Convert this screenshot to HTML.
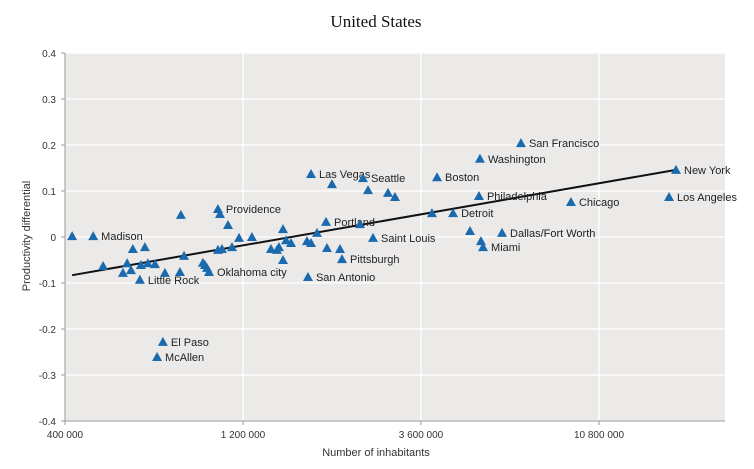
<!DOCTYPE html>
<html><head><meta charset="utf-8"><style>
body{margin:0;background:#fff}
svg{display:block}
text{font-family:"Liberation Sans",sans-serif}
</style></head><body>
<svg id="chart" width="754" height="469"></svg>
<script>
const populations=[418000,476000,818000,1028000,1041000,1094000,1171000,1268000,1536000,608000,655000,506000,587000,572000,601000,639000,667000,697000,635000,741000,813000,834000,937000,949000,961000,973000,1028000,1054000,1121000,1426000,1480000,1498000,1565000,1614000,1536000,1781000,1826000,1894000,2003000,2015000,2184000,2211000,1792000,2470000,2677000,1826000,2078000,2516000,2596000,2936000,3066000,3974000,5180000,6672000,17372000,5148000,16640000,9084000,3852000,4388000,4872000,5936000,5212000,5280000,732000,706000];
const differentials=[0.002,0.002,0.048,0.061,0.05,0.026,-0.002,0.0,0.017,-0.026,-0.022,-0.063,-0.057,-0.078,-0.072,-0.061,-0.057,-0.059,-0.093,-0.078,-0.076,-0.041,-0.056,-0.061,-0.067,-0.076,-0.028,-0.026,-0.022,-0.026,-0.028,-0.022,-0.007,-0.013,-0.05,-0.009,-0.013,0.009,0.033,-0.024,-0.026,-0.048,-0.087,0.028,-0.002,0.137,0.115,0.128,0.102,0.096,0.087,0.13,0.17,0.204,0.146,0.089,0.087,0.076,0.052,0.052,0.013,0.009,-0.009,-0.022,-0.228,-0.261];
const cityLabels=["","Madison","","Providence","","","","","","","","","","","","","","","Little Rock","","","","","","","Oklahoma city","","","","","","","","","","","","","Portland","","","Pittsburgh","San Antonio","","Saint Louis","Las Vegas","","Seattle","","","","Boston","Washington","San Francisco","New York","Philadelphia","Los Angeles","Chicago","","Detroit","","Dallas/Fort Worth","","Miami","El Paso","McAllen"];
const xTicks=[400000,1200000,3600000,10800000];
const xTickLabels=["400 000","1 200 000","3 600 000","10 800 000"];
const yTicks=[0.4,0.3,0.2,0.1,0,-0.1,-0.2,-0.3,-0.4];
const trendX=[418000,17372000];
const trendY=[-0.083,0.146];

const NS="http://www.w3.org/2000/svg";
const svg=document.getElementById('chart');
const L=65,R=725,T=53,B=421;
const xs=v=>L+178*Math.log(v/400000)/Math.log(3);
const ys=v=>237-460*v;
function el(tag,attrs,txt){const e=document.createElementNS(NS,tag);for(const k in attrs)e.setAttribute(k,attrs[k]);if(txt!==undefined)e.textContent=txt;svg.appendChild(e);return e;}

let e=el('rect',{x:L,y:T,width:R-L,height:B-T,fill:'#ebeae9'});


yTicks.forEach(v=>{
  const g=el('line',{x1:L,x2:R,y1:ys(v),y2:ys(v),stroke:'#fff','stroke-width':1.3});
  
  
  const t=el('text',{x:L-9,y:ys(v)+4,'text-anchor':'end','font-size':10,fill:'#333'},v===0?'0':v.toFixed(1));
  
  
  const tk=el('line',{x1:L-4,x2:L,y1:ys(v),y2:ys(v),stroke:'#999'});
  
  
});
xTicks.forEach((v,i)=>{
  if(i>0){const g=el('line',{x1:xs(v),x2:xs(v),y1:T,y2:B,stroke:'#fff','stroke-width':1.3});
  
  }
  const tk=el('line',{x1:xs(v),x2:xs(v),y1:B,y2:B+4,stroke:'#999'});
  
  
  const t=el('text',{x:xs(v),y:B+17,'text-anchor':'middle','font-size':10,fill:'#333'},xTickLabels[i]);
  
  
});
e=el('line',{x1:L,x2:L,y1:T,y2:B,stroke:'#999'});


e=el('line',{x1:L,x2:R,y1:B,y2:B,stroke:'#999'});



e=el('line',{x1:xs(trendX[0]),y1:ys(trendY[0]),x2:xs(trendX[1]),y2:ys(trendY[1]),stroke:'#111','stroke-width':2});



populations.forEach((p,i)=>{
  const cx=xs(p),cy=ys(differentials[i]);
  const m=el('polygon',{points:`${cx-5},${cy+4} ${cx+5},${cy+4} ${cx},${cy-5}`,fill:'#1a6aad'});
  
  
  if(cityLabels[i]){
    const t=el('text',{x:cx+8,y:cy+4,'font-size':11,fill:'#222'},cityLabels[i]);
    
    
  }
});

e=el('text',{x:376,y:27,'text-anchor':'middle','font-size':17,fill:'#111',style:'font-family:"Liberation Serif",serif'},'United States');


e=el('text',{x:376,y:456,'text-anchor':'middle','font-size':11,fill:'#333'},'Number of inhabitants');


e=el('text',{x:0,y:0,'text-anchor':'middle','font-size':11,fill:'#333',transform:'translate(30,236) rotate(-90)'},'Productivity differential');


</script>
</body></html>
